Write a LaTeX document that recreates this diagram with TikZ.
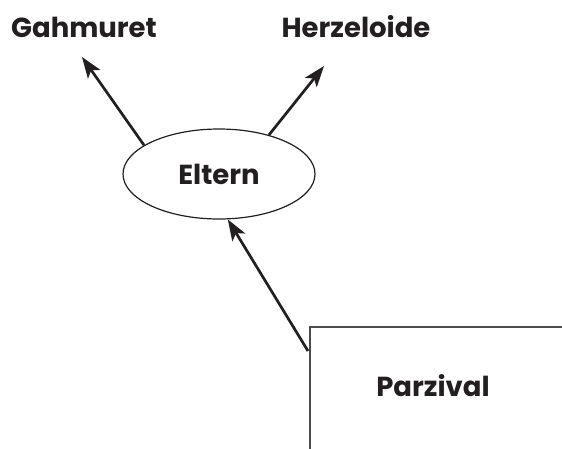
\documentclass[tikz,border=0pt]{standalone}
\usepackage{fontspec}
\setmainfont{Poppins}[UprightFont=* Bold]
\usetikzlibrary{arrows.meta,shapes.geometric}
\definecolor{ink}{HTML}{231F20}
\tikzset{
  lbl/.style={font=\fontsize{27.5}{30}\selectfont, text=ink, inner sep=0pt},
  conn/.style={draw=ink, line width=2.7pt, -{Stealth[length=21pt,width=15pt,inset=5pt]}},
}
\begin{document}
\begin{tikzpicture}[x=1pt,y=-1pt]
\useasboundingbox (0,0) rectangle (562,448);
\node[lbl] (gah) at (84,27) {Gahmuret};
\node[lbl] (her) at (356,27) {Herzeloide};
\node[draw=ink, line width=1.2pt, ellipse, minimum width=192pt, minimum height=90pt, inner sep=0pt] (el) at (219,174) {};
\node[lbl] at (el.center) {Eltern};
\node[draw=black!70, line width=1.7pt, minimum width=320pt, minimum height=170pt, anchor=north west, inner sep=0pt] (box) at (309,326) {};
\node[lbl] (pz) at (433,386) {Parzival};
\coordinate (gtip) at (82,57);
\coordinate (htip) at (324,66);
\coordinate (pstart) at (308,351);
\draw[conn] (el.159) -- (gtip);
\draw[conn] (el.38) -- (htip);
\draw[conn] (pstart) -- (el.-79);
\end{tikzpicture}
\end{document}
